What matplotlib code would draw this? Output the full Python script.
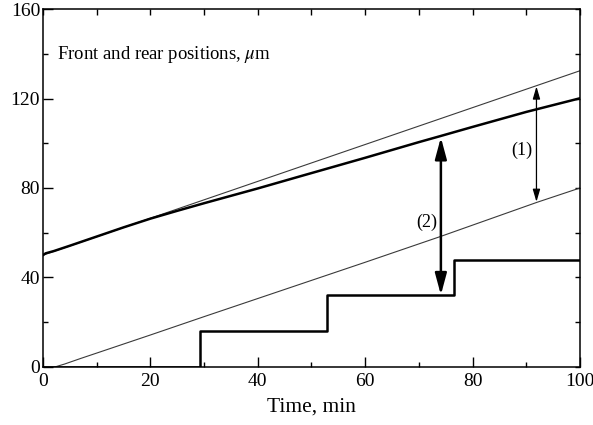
import matplotlib
matplotlib.use("Agg")
import matplotlib.pyplot as plt
from matplotlib.ticker import MultipleLocator

plt.rcParams['font.family'] = ['Liberation Serif', 'DejaVu Serif']
plt.rcParams['mathtext.fontset'] = 'stix'

# Data
rear_t = [0, 100]
rear_upper = [50, 132.4]          # upper thin straight line
front_t = [0, 0.5, 2, 5, 10, 15, 20, 25, 30, 40, 48, 60, 70, 74, 80, 90, 100]
front_pos = [50, 50.8, 51.8, 54.2, 58.3, 62.4, 66.3, 69.8, 73.2, 79.8, 85.3, 93.5, 100.5, 103.2, 107.3, 114, 120.1]
lower_t = [2.2, 4, 7, 10.6, 20, 30, 47.9, 60, 74, 92, 100]
lower_pos = [0, 1.3, 3.8, 6.7, 14.3, 22.5, 37, 46.8, 58.3, 73.6, 80]
step_t = [0, 29.3, 29.3, 52.8, 52.8, 76.5, 76.5, 100]
step_v = [0, 0, 16, 16, 32, 32, 48, 48]

arrow2_t, arrow2_lo, arrow2_hi = 74.1, 32.2, 102.6
arrow1_t, arrow1_lo, arrow1_hi = 91.9, 73.8, 125.4
label2_pos = (71.4, 64.8)
label1_pos = (89.2, 97)

fig = plt.figure(figsize=(5.93, 4.25), dpi=100)
ax = fig.add_axes([0.0725, 0.1365, 0.9055, 0.8423])

ax.plot(rear_t, rear_upper, color='#3a3a3a', lw=0.8)
ax.plot(lower_t, lower_pos, color='#3a3a3a', lw=0.8)
ax.plot(front_t, front_pos, color='black', lw=1.8)
ax.plot(step_t, step_v, color='black', lw=1.8)

ax.annotate('', xy=(arrow2_t, arrow2_hi), xytext=(arrow2_t, arrow2_lo),
            arrowprops=dict(arrowstyle='<|-|>,head_length=1.3,head_width=0.35',
                            mutation_scale=10, lw=1.8, color='black',
                            shrinkA=0, shrinkB=0))
ax.annotate('', xy=(arrow1_t, arrow1_hi), xytext=(arrow1_t, arrow1_lo),
            arrowprops=dict(arrowstyle='<|-|>,head_length=0.75,head_width=0.22',
                            mutation_scale=10, lw=0.9, color='black',
                            shrinkA=0, shrinkB=0))
ax.text(*label2_pos, '(2)', fontsize=13, ha='center', va='center')
ax.text(*label1_pos, '(1)', fontsize=13, ha='center', va='center')

ax.text(2.6, 139.5, r'Front and rear positions, $\mu$m', fontsize=13.5,
        ha='left', va='center')

ax.set_xlim(0, 100)
ax.set_ylim(0, 160)
ax.xaxis.set_major_locator(MultipleLocator(20))
ax.xaxis.set_minor_locator(MultipleLocator(10))
ax.yaxis.set_major_locator(MultipleLocator(40))
ax.yaxis.set_minor_locator(MultipleLocator(20))
ax.tick_params(which='major', direction='in', length=7, width=1, labelsize=14)
ax.tick_params(axis='x', which='major', pad=4)
ax.tick_params(axis='y', which='major', pad=2)
ax.tick_params(which='minor', direction='in', length=3.5, width=1)
ax.set_xlabel('Time, min', fontsize=15.5, labelpad=6)
for s in ax.spines.values():
    s.set_linewidth(1.1)

top = ax.secondary_xaxis('top')
top.xaxis.set_major_locator(MultipleLocator(10))
top.tick_params(direction='in', length=4.5, width=1, labeltop=False)
top.spines['top'].set_visible(False)
right = ax.secondary_yaxis('right')
right.yaxis.set_major_locator(MultipleLocator(20))
right.tick_params(direction='in', length=3.5, width=1, labelright=False)
right.spines['right'].set_visible(False)

fig.savefig('out.png', dpi=100)
